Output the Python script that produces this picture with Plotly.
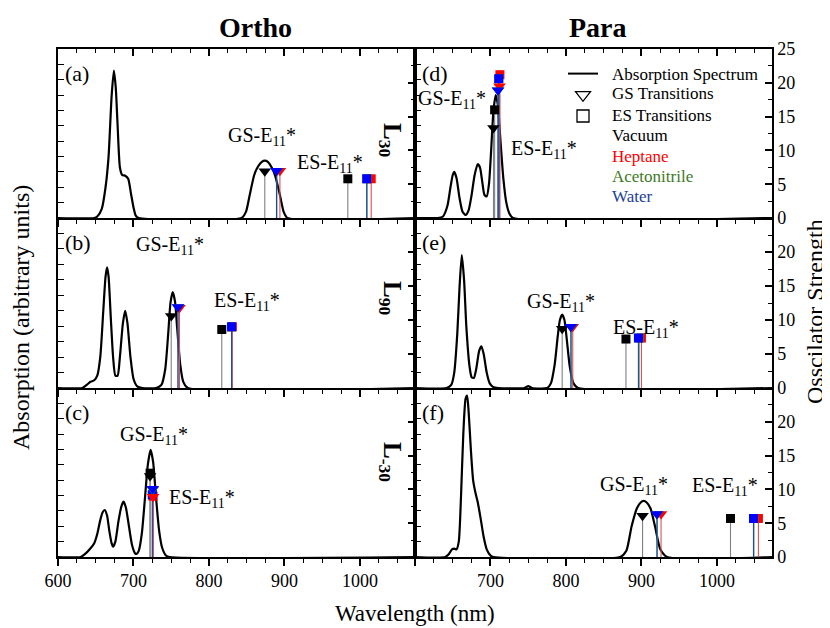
import plotly.graph_objects as go

# ---------------- data ----------------
solvents = ["Vacuum", "Heptane", "Acetonitrile", "Water"]
marker_colors = ["#000000", "#ff0000", "#2e8b22", "#0000ff"]
stem_colors = ["#808080", "#e05050", "#40a040", "#2040c0"]
legend_text_colors = ["#000000", "#ff0000", "#3e7a26", "#22409a"]
legend_labels = ["Absorption Spectrum", "GS Transitions", "ES Transitions"]

# absorption spectra (wavelength nm, normalised absorption)
a_wl = [600, 648, 652, 658, 663, 667, 671, 674, 676.5, 679, 682, 685, 689, 693, 697, 700, 703, 707,
        843, 849, 854, 860, 865, 870, 874, 878, 883, 888, 894, 899, 904, 1073]
a_ab = [0, 0, 0.01, 0.06, 0.2, 0.4, 0.79, 0.96, 0.85, 0.6, 0.33, 0.28, 0.275, 0.255, 0.15, 0.07, 0.015, 0,
        0, 0.04, 0.15, 0.28, 0.335, 0.365, 0.373, 0.365, 0.33, 0.27, 0.15, 0.04, 0, 0]

b_wl = [600, 632, 638, 643, 648, 652, 656, 660, 663, 665, 667, 670, 673, 676, 679, 682, 686, 689, 692, 696,
        700, 705, 712, 730, 737, 742, 746, 749, 752, 755, 758, 762, 766, 772, 1073]
b_ab = [0, 0, 0.02, 0.04, 0.05, 0.08, 0.2, 0.5, 0.72, 0.78, 0.72, 0.45, 0.2, 0.08, 0.08, 0.2, 0.42, 0.5, 0.42, 0.2,
        0.06, 0.01, 0, 0, 0.02, 0.12, 0.35, 0.55, 0.62, 0.56, 0.38, 0.15, 0.04, 0, 0]

c_wl = [600, 630, 636, 642, 648, 652, 656, 659, 662, 665, 668, 671, 673, 676, 680, 684, 687, 690, 694, 698,
        702, 704, 707, 711, 715, 719, 722.7, 726, 730, 734, 738, 743, 748, 1073]
c_ab = [0, 0, 0.02, 0.05, 0.09, 0.15, 0.24, 0.29, 0.306, 0.27, 0.17, 0.09, 0.067, 0.1, 0.23, 0.33, 0.36, 0.32, 0.2, 0.08,
        0.025, 0.02, 0.04, 0.15, 0.37, 0.6, 0.697, 0.62, 0.38, 0.17, 0.06, 0.01, 0, 0]

d_wl = [600, 630, 637, 643, 647, 650, 652, 655, 659, 663, 667, 671, 675, 679, 683, 686, 689, 692, 695, 698,
        701, 704, 707, 710, 713, 717, 721, 725, 730, 1073]
d_ab = [0, 0, 0.01, 0.08, 0.2, 0.28, 0.3, 0.26, 0.13, 0.04, 0.02, 0.05, 0.15, 0.28, 0.35, 0.33, 0.24, 0.15, 0.14, 0.22,
        0.45, 0.7, 0.8, 0.73, 0.52, 0.26, 0.1, 0.03, 0, 0]

e_wl = [600, 642, 648, 652, 656, 659, 662, 665, 668, 672, 675, 678, 681, 685, 688, 691, 695, 699, 704, 710,
        745, 750, 755, 775, 780, 785, 789, 792, 795, 798, 801, 805, 810, 816, 1073]
e_ab = [0, 0, 0.02, 0.1, 0.35, 0.65, 0.86, 0.7, 0.4, 0.15, 0.07, 0.065, 0.12, 0.24, 0.27, 0.22, 0.1, 0.03, 0.005, 0,
        0, 0.012, 0, 0, 0.03, 0.15, 0.33, 0.44, 0.475, 0.44, 0.32, 0.14, 0.03, 0, 0]

f_wl = [600, 640, 645, 649, 652, 655, 658, 661, 664, 667, 669, 671, 674, 677, 680, 683, 687, 691, 695, 700, 704,
        872, 880, 887, 894, 899, 903, 907, 912, 918, 925, 934, 1073]
f_ab = [0, 0, 0.02, 0.05, 0.055, 0.05, 0.1, 0.4, 0.8, 1.03, 1.05, 0.95, 0.7, 0.5, 0.42, 0.36, 0.25, 0.13, 0.05, 0.01, 0,
        0, 0.04, 0.2, 0.317, 0.355, 0.365, 0.355, 0.317, 0.2, 0.05, 0, 0]

# transitions (order: Vacuum, Heptane, Acetonitrile, Water)
a_gs_wl = [874, 894, 890, 889.5]
a_gs_f = [6.9, 7.0, 7.0, 7.0]
a_es_wl = [984, 1015, 1009.5, 1009]
a_es_f = [5.8, 5.8, 5.8, 5.8]

b_gs_wl = [750, 761, 759, 759]
b_gs_f = [10.6, 11.8, 11.9, 11.9]
b_es_wl = [817, 831, 830, 830]
b_es_f = [8.6, 9.0, 9.0, 9.0]

c_gs_wl = [722, 726, 725.5, 725.5]
c_gs_f = [12.0, 8.9, 10.0, 10.1]
c_es_wl = [722, 726, 725, 725]
c_es_f = [12.4, 9.0, 9.2, 9.2]

d_gs_wl = [704, 712, 710, 710]
d_gs_f = [13.3, 19.5, 18.9, 18.9]
d_es_wl = [705.5, 712.5, 711, 711]
d_es_f = [16.0, 21.2, 20.6, 20.6]

e_gs_wl = [795, 809, 807, 806.5]
e_gs_f = [8.7, 9.0, 9.0, 9.0]
e_es_wl = [879.5, 900, 897, 896]
e_es_f = [7.2, 7.35, 7.35, 7.35]

f_gs_wl = [901.5, 926, 921, 920.5]
f_gs_f = [6.1, 6.36, 6.36, 6.36]
f_es_wl = [1018, 1055, 1049, 1048.5]
f_es_f = [5.7, 5.7, 5.7, 5.7]

x_ticks = [600, 700, 800, 900, 1000]
osc_ticks = [0, 5, 10, 15, 20, 25]

# ---------------- layout geometry ----------------
# the page body has an 8px margin, so the figure is shrunk by that amount and
# all target positions below are given in screenshot pixels
OFF = 8
W, H = 830 - OFF, 628 - OFF
FONT = "Liberation Serif"


def px(xs):
    return (xs - OFF) / W


def py(ys):
    return 1 - (ys - OFF) / H


cols = [(58, 415), (415, 772)]
rows = [(49, 218), (218, 388), (388, 557)]
L_label_y = [140, 298, 462]

panels = [
    ("a", 0, 0, a_wl, a_ab, (a_gs_wl, a_gs_f, a_es_wl, a_es_f), "L<sub>30</sub>"),
    ("d", 0, 1, d_wl, d_ab, (d_gs_wl, d_gs_f, d_es_wl, d_es_f), None),
    ("b", 1, 0, b_wl, b_ab, (b_gs_wl, b_gs_f, b_es_wl, b_es_f), "L<sub>90</sub>"),
    ("e", 1, 1, e_wl, e_ab, (e_gs_wl, e_gs_f, e_es_wl, e_es_f), None),
    ("c", 2, 0, c_wl, c_ab, (c_gs_wl, c_gs_f, c_es_wl, c_es_f), "L<sub>-30</sub>"),
    ("f", 2, 1, f_wl, f_ab, (f_gs_wl, f_gs_f, f_es_wl, f_es_f), None),
]

# label positions in data coords (wavelength, osc strength)
gs_label_pos = {"a": (870, 12.0), "d": (649, 17.6), "b": (748, 21.0), "e": (794, 12.6), "c": (727, 18.0), "f": (890, 10.6)}
es_label_pos = {"a": (960, 8.1), "d": (771, 10.2), "b": (850, 12.7), "e": (906, 8.7), "c": (791, 8.6), "f": (1011, 10.4)}

fig = go.Figure()
layout = {}
annotations = []

axis_line = dict(showline=True, linewidth=1.5, linecolor="black", showgrid=False, zeroline=False, automargin=False)
tick_font = dict(family=FONT, size=18, color="black")

for p, (letter, r, c, wl, ab, trans, Llab) in enumerate(panels, start=1):
    xname = "x" if p == 1 else f"x{p}"
    ya, yo = 2 * p - 1, 2 * p
    yaname = "y" if ya == 1 else f"y{ya}"
    yoname = f"y{yo}"
    x0, x1 = cols[c]
    t, b = rows[r]
    xdom = [px(x0), px(x1)]
    ydom = [py(b), py(t)]

    xkey = "xaxis" if p == 1 else f"xaxis{p}"
    if c == 0:
        ttext = [str(v) for v in x_ticks]
    else:
        ttext = [""] + [str(v) for v in x_ticks[1:]]
    layout[xkey] = dict(domain=xdom, range=[600, 1073], anchor=yaname, tickvals=x_ticks, ticktext=ttext,
                        ticks="outside", ticklen=7, tickwidth=1.5, tickcolor="black",
                        minor=dict(ticks="outside", ticklen=4, tickwidth=1.2, tickcolor="black", dtick=25, tick0=600),
                        showticklabels=(r == 2), tickfont=tick_font, **axis_line)
    yakey = "yaxis" if ya == 1 else f"yaxis{ya}"
    layout[yakey] = dict(domain=ydom, range=[0, 1.1], anchor=xname, side="left", dtick=0.1, tick0=0,
                         ticks="inside", ticklen=6, tickwidth=1.2, tickcolor="black",
                         showticklabels=False, **axis_line)
    olabels = [str(v) for v in osc_ticks] if r == 0 else [str(v) for v in osc_ticks[:-1]] + [""]
    layout[f"yaxis{yo}"] = dict(range=[0, 25], overlaying=yaname, anchor=xname, side="right",
                                tickvals=osc_ticks, ticktext=olabels, ticks="inside", ticklen=7, tickwidth=1.5,
                                tickcolor="black",
                                minor=dict(ticks="inside", ticklen=4, tickwidth=1.2, tickcolor="black", dtick=2.5, tick0=0),
                                showticklabels=(c == 1), tickfont=tick_font, **axis_line)

    # absorption spectrum
    fig.add_trace(go.Scatter(x=wl, y=ab, mode="lines", line=dict(color="black", width=2.2, shape="spline", smoothing=0.6),
                             xaxis=xname, yaxis=yaname, showlegend=False, hoverinfo="skip"))

    gs_wl, gs_f, es_wl, es_f = trans
    # stems
    for kind_wl, kind_f in ((gs_wl, gs_f), (es_wl, es_f)):
        for i in range(4):
            fig.add_trace(go.Scatter(x=[kind_wl[i], kind_wl[i]], y=[0, kind_f[i]], mode="lines",
                                     line=dict(color=stem_colors[i], width=1.1), xaxis=xname, yaxis=yoname,
                                     showlegend=False, hoverinfo="skip"))
    # markers
    for i in range(4):
        fig.add_trace(go.Scatter(x=[es_wl[i]], y=[es_f[i]], mode="markers",
                                 marker=dict(symbol="square", size=9, color=marker_colors[i], line=dict(width=0)),
                                 xaxis=xname, yaxis=yoname, showlegend=False, hoverinfo="skip"))
    for i in range(4):
        fig.add_trace(go.Scatter(x=[gs_wl[i]], y=[gs_f[i]], mode="markers",
                                 marker=dict(symbol="triangle-down", size=11, color=marker_colors[i], line=dict(width=0)),
                                 xaxis=xname, yaxis=yoname, showlegend=False, hoverinfo="skip"))

    # text labels
    gx, gy = gs_label_pos[letter]
    ex, ey = es_label_pos[letter]
    for (tx, ty, lab) in ((gx, gy, "GS-E<sub>11</sub>*"), (ex, ey, "ES-E<sub>11</sub>*")):
        annotations.append(dict(x=tx, y=ty, xref=xname, yref=yoname, text=lab, showarrow=False,
                                font=dict(family=FONT, size=20, color="black"), xanchor="center", yanchor="middle"))
    annotations.append(dict(x=px(x0 + 5), y=py(t + 24), xref="paper", yref="paper", text=f"({letter})",
                            showarrow=False, xanchor="left", yanchor="middle",
                            font=dict(family=FONT, size=22, color="black")))
    if Llab:
        annotations.append(dict(x=px(391), y=py(L_label_y[r]), xref="paper", yref="paper", text=f"<b>{Llab}</b>",
                                showarrow=False, textangle=90, xanchor="center", yanchor="middle",
                                font=dict(family=FONT, size=25, color="black")))

# top-edge ticks for the top row (pointing inward)
for k, p in ((7, 1), (8, 2)):
    xname = "x" if p == 1 else f"x{p}"
    yaname = "y" if p == 1 else f"y{2 * p - 1}"
    layout[f"xaxis{k}"] = dict(range=[600, 1073], overlaying=xname, anchor=yaname, side="top",
                               tickvals=x_ticks, ticks="inside", ticklen=7, tickwidth=1.5, tickcolor="black",
                               minor=dict(ticks="inside", ticklen=4, tickwidth=1.2, tickcolor="black", dtick=25, tick0=600),
                               showticklabels=False, **axis_line)
    fig.add_trace(go.Scatter(x=[None], y=[None], xaxis=f"x{k}", yaxis=yaname, showlegend=False, hoverinfo="skip"))

# legend symbols (texts are placed as annotations for exact row spacing)
fig.add_trace(go.Scatter(x=[None], y=[None], mode="lines", line=dict(color="black", width=2), name="\u2009"))
fig.add_trace(go.Scatter(x=[None], y=[None], mode="markers", name="\u2009\u2009",
                         marker=dict(symbol="triangle-down-open", size=13, color="black", line=dict(width=1.3))))
fig.add_trace(go.Scatter(x=[None], y=[None], mode="markers", name="\u2009\u2009\u2009",
                         marker=dict(symbol="square-open", size=12, color="black", line=dict(width=1.3))))

legend_rows_y = [75, 94, 115, 135, 156, 176, 196.5]
for k, lab in enumerate(legend_labels):
    annotations.append(dict(x=px(610), y=py(legend_rows_y[k]), xref="paper", yref="paper", text=lab, showarrow=False,
                            xanchor="left", yanchor="middle", font=dict(family=FONT, size=17, color="black")))
for k, (s, col) in enumerate(zip(solvents, legend_text_colors)):
    annotations.append(dict(x=px(610), y=py(legend_rows_y[3 + k]), xref="paper", yref="paper", text=s, showarrow=False,
                            xanchor="left", yanchor="middle", font=dict(family=FONT, size=17, color=col)))

# titles
annotations += [
    dict(x=px(255), y=py(28), xref="paper", yref="paper", text="<b>Ortho</b>", showarrow=False,
         xanchor="center", yanchor="middle", font=dict(family=FONT, size=28, color="black")),
    dict(x=px(598), y=py(28), xref="paper", yref="paper", text="<b>Para</b>", showarrow=False,
         xanchor="center", yanchor="middle", font=dict(family=FONT, size=28, color="black")),
    dict(x=px(415), y=py(613), xref="paper", yref="paper", text="Wavelength (nm)", showarrow=False,
         xanchor="center", yanchor="middle", font=dict(family=FONT, size=23, color="black")),
    dict(x=px(21), y=py(318), xref="paper", yref="paper", text="Absorption (arbitrary units)", showarrow=False,
         xanchor="center", yanchor="middle", textangle=-90, font=dict(family=FONT, size=24, color="black")),
    dict(x=px(815), y=py(312), xref="paper", yref="paper", text="Osscilator Strength", showarrow=False,
         xanchor="center", yanchor="middle", textangle=-90, font=dict(family=FONT, size=24, color="black")),
]

fig.update_layout(
    template="none",
    width=W, height=H, margin=dict(l=0, r=0, t=0, b=0, pad=0, autoexpand=False),
    paper_bgcolor="white", plot_bgcolor="white",
    font=dict(family=FONT, size=16, color="black"),
    showlegend=True,
    legend=dict(x=px(563), y=py(58), xanchor="left", yanchor="top", bgcolor="rgba(0,0,0,0)",
                font=dict(family=FONT, size=14, color="black"), itemwidth=30, borderwidth=0),
    annotations=annotations,
    **layout,
)

fig.write_html("out.html")
